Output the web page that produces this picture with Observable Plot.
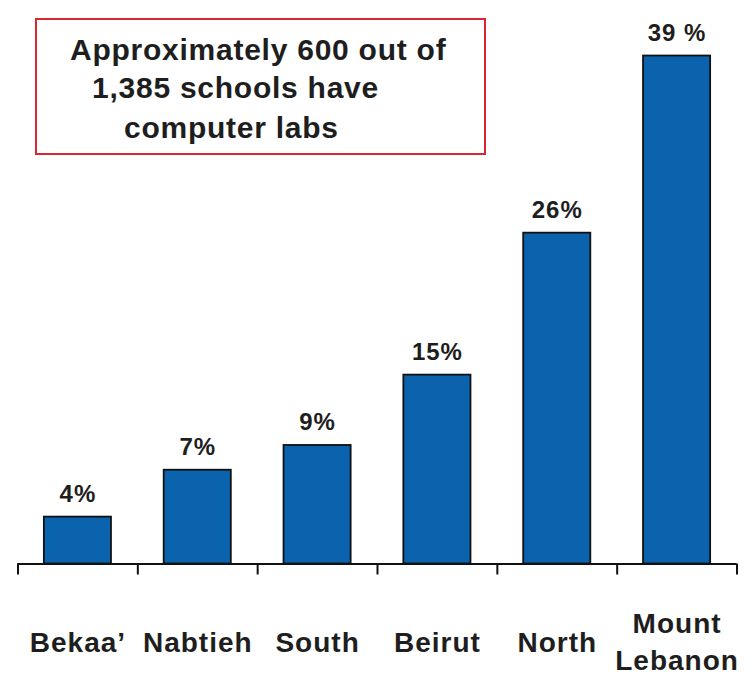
<!DOCTYPE html>
<html>
<head>
<meta charset="utf-8">
<script src="https://cdn.jsdelivr.net/npm/d3@7"></script>
<script src="https://cdn.jsdelivr.net/npm/@observablehq/plot@0.6"></script>
<style>
  html, body { margin: 0; padding: 0; background: #fff; }
  #wrap { position: relative; width: 755px; height: 677px; overflow: hidden; }
  #note {
    position: absolute; left: 35px; top: 18px; width: 447px; height: 133px;
    border: 2px solid #db2532; box-sizing: content-box;
    font-family: "Liberation Sans", Arial, sans-serif; font-weight: bold;
    font-size: 30px; letter-spacing: 0.75px; color: #1e1e1e;
  }
  #note div { position: absolute; white-space: pre; line-height: 30px; }
</style>
</head>
<body>
<div id="wrap">
  <div id="chart"></div>
  <div id="note">
    <div style="left:33px; top:15px;">Approximately 600 out of</div>
    <div style="left:55px; top:53px;">1,385 schools have</div>
    <div style="left:87px; top:93px;">computer labs</div>
  </div>
</div>
<script>
// Regions (categories), in drawing order
const regions = ["Bekaa\u2019", "Nabtieh", "South", "Beirut", "North", "Mount\nLebanon"];
// Bar heights (percent of schools with computer labs)
const shares = [3.6, 7.2, 9.1, 14.5, 25.4, 39];
// Printed value labels
const shareLabels = ["4%", "7%", "9%", "15%", "26%", "39 %"];
// Slot boundaries along the axis (tick marks)
const slotEdges = [0, 1, 2, 3, 4, 5, 6];

const barFraction = 0.56; // share of each slot taken by its bar

const data = regions.map((r, i) => ({
  region: r,
  slot: i,
  value: shares[i],
  label: shareLabels[i]
}));

const chart = Plot.plot({
  width: 755,
  height: 677,
  marginLeft: 17.5,
  marginRight: 18.5,
  marginTop: 42.5,
  marginBottom: 113.5,
  style: {
    fontFamily: "'Liberation Sans', Arial, sans-serif",
    fontWeight: "bold",
    letterSpacing: "1px",
    color: "#1e1e1e",
    background: "transparent"
  },
  x: { type: "linear", domain: [0, slotEdges.length - 1], axis: null },
  y: { domain: [0, 40], axis: null },
  marks: [
    Plot.rectY(data, {
      x1: d => d.slot + (1 - barFraction) / 2,
      x2: d => d.slot + (1 + barFraction) / 2,
      y: "value",
      fill: "#0b63ae",
      stroke: "#111",
      strokeWidth: 1.8
    }),
    Plot.text(data, {
      x: d => d.slot + 0.5,
      y: "value",
      text: "label",
      lineAnchor: "bottom",
      dy: -15,
      fontSize: 24,
      fontWeight: "bold",
      fill: "#1e1e1e"
    }),
    Plot.ruleY([0], { stroke: "#111", strokeWidth: 2 }),
    Plot.axisX(slotEdges, {
      tickSize: 11,
      tickFormat: () => "",
      stroke: "#111",
      strokeWidth: 2
    }),
    Plot.text(data, {
      x: d => d.slot + 0.5,
      frameAnchor: "bottom",
      text: "region",
      lineAnchor: "middle",
      lineHeight: 1.3,
      dy: 76,
      fontSize: 28,
      fontWeight: "bold",
      fill: "#1e1e1e"
    })
  ]
});

document.getElementById("chart").appendChild(chart);
</script>
</body>
</html>
